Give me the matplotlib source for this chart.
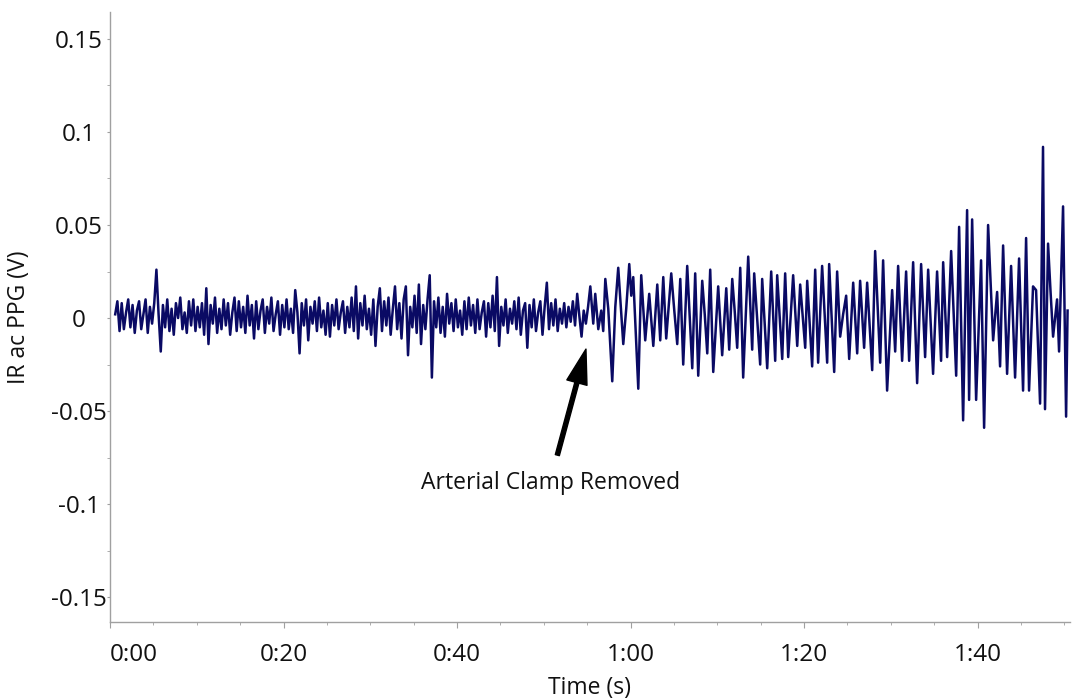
import numpy as np
import matplotlib.pyplot as plt
from matplotlib.ticker import MultipleLocator

plt.rcParams['font.family'] = ['Open Sans', 'DejaVu Sans']

# first part (clamp on): one sample every 0.25 s, values in mV
early_start = 0.6
early_step = 0.25
early_mv = [2, 9, -7, 8, -6, 3, 10, -5, 7, -8, 4, 9, -6, 2, 10, -8, 6, -3, 8, 26,
            2, -18, 7, -5, 10, -7, 5, -9, 8, 0, 11, -6, 3, -8, 9, -4, 10, -7, 6, -5,
            8, -9, 16, -14, 7, -3, 11, -8, 5, -6, 10, -4, 8, -9, 3, 11, -7, 9, -5, 6,
            -8, 12, -4, 7, -11, 9, -6, 4, 10, -8, 6, -3, 11, -7, 2, 9, -9, 7, -5, 10,
            -6, 5, -8, 15, 3, -19, 8, -4, 10, -12, 6, -3, 9, -7, 11, -5, 4, -9, 8, -10,
            7, -4, 10, -6, 3, 9, -8, 6, -5, 11, -7, 17, -11, 8, -4, 12, -6, 5, -9, 10,
            -15, 6, 16, -7, 9, -4, 11, -9, 5, 17, -6, 8, -11, 10, 17, -20, 6, -5, 12, -8,
            18, -14, 7, -6, 10, 23, -32, 9, -5, 11, -8, 6, -10, 13, -3, 8, -7, 10, -5, 4,
            -9, 9, -6, 11, -4, 7, -8, 10, -6, 3, 9, -10, 8, -5, 12, -7, 22, -15, 6, -4,
            10, -8, 5, -3, 9, -6, 11, -9, 4, 8, -16, 7, -5, 10, -7, 3, 9, -9, 6, 19,
            -6, 8, -4, 10, -7, 5, -3, 8, -5, 6, -2, 9, -4, 13, 1, -10, 4, -3, 6]

# second part (clamp removed): peaks and troughs, time in s, values in mV
late_t = [55.36, 55.70, 55.93, 56.28, 56.62, 56.85, 57.09, 57.43, 57.89, 58.24,
          58.58, 58.93, 59.16, 59.50, 59.85, 60.08, 60.31, 60.89, 61.23, 61.69,
          62.15, 62.62, 63.08, 63.42, 63.77, 64.11, 64.69, 65.04, 65.38, 65.73,
          66.07, 66.53, 67.11, 67.45, 67.80, 68.26, 68.55, 68.84, 69.18, 69.53,
          70.10, 70.56, 71.03, 71.37, 71.72, 72.00, 72.29, 72.64, 72.98, 73.56,
          74.02, 74.25, 74.94, 75.17, 75.75, 76.21, 76.67, 76.90, 77.48, 77.82,
          78.17, 78.74, 79.21, 79.55, 80.13, 80.36, 80.93, 81.28, 81.62, 82.08,
          82.66, 82.89, 83.47, 83.81, 84.16, 84.50, 84.85, 85.20, 85.66, 86.12,
          86.46, 86.92, 87.27, 87.85, 88.19, 88.77, 89.11, 89.57, 90.15, 90.50,
          90.84, 91.30, 91.76, 92.11, 92.57, 93.03, 93.49, 93.95, 94.30, 94.87,
          95.33, 95.79, 96.03, 96.49, 96.95, 97.53, 97.87, 98.33, 98.79, 99.02,
          99.37, 99.83, 100.40, 100.75, 101.21, 101.79, 102.25, 102.59, 102.94, 103.40,
          103.86, 104.32, 104.78, 105.24, 105.59, 105.93, 106.39, 106.74, 107.20, 107.54,
          107.77, 108.12, 108.41, 108.70, 109.16, 109.39, 109.85, 110.20, 110.37]
late_mv = [17, -3, 13, -6, 4, -7, 21, 5, -34, 6,
           27, 2, -14, 5, 29, 12, 22, -38, 23, -12,
           13, -15, 18, -12, 22, -11, 24, 4, -14, 21,
           -25, 28, -27, 24, -31, 20, 2, -19, 26, -29,
           17, -20, 16, -17, 21, 4, -16, 27, -32, 33,
           -17, 24, -25, 21, -27, 25, -23, 23, -22, 24,
           -21, 23, -15, 18, -16, 20, -26, 26, -24, 28,
           -24, 29, -29, 25, -10, 2, 12, -22, 19, -19,
           20, -16, 19, -28, 36, -24, 31, -39, 15, -18,
           28, -23, 25, -23, 30, -35, 29, -21, 26, -30,
           25, -23, 30, -21, 36, -31, 49, -55, 58, -44,
           53, -44, 31, -59, 50, -12, 14, -26, 39, -30,
           28, -32, 32, -39, 43, -39, 17, 15, -46, 92,
           -49, 40, 14, -10, 10, -18, 60, -53, 4]

x_ticks = [0, 20, 40, 60, 80, 100]
x_labels = ['0:00', '0:20', '0:40', '1:00', '1:20', '1:40']
y_ticks = [-0.15, -0.1, -0.05, 0, 0.05, 0.1, 0.15]
y_labels = ['-0.15', '-0.1', '-0.05', '0', '0.05', '0.1', '0.15']

early_t = early_start + early_step * np.arange(len(early_mv))
t = np.concatenate([early_t, late_t])
v = np.concatenate([early_mv, late_mv]) / 1000.0

fig = plt.figure(figsize=(10.74, 6.99), dpi=100)
ax = fig.add_axes([110 / 1074, 1 - 622 / 699, 960 / 1074, 610 / 699])
ax.plot(t, v, color='#0a0a64', lw=1.8)

ax.set_xlim(0.06, 110.65)
ax.set_ylim(-0.1634, 0.1645)
ax.set_xticks(x_ticks)
ax.set_xticklabels(x_labels)
ax.set_yticks(y_ticks)
ax.set_yticklabels(y_labels, ha='center')
ax.get_xticklabels()[0].set_ha('left')
ax.xaxis.set_minor_locator(MultipleLocator(5))
ax.yaxis.set_minor_locator(MultipleLocator(0.025))

for s in ['top', 'right']:
    ax.spines[s].set_visible(False)
for s in ['left', 'bottom']:
    ax.spines[s].set_color('#a0a0a0')
    ax.spines[s].set_linewidth(1.0)

ax.tick_params(axis='x', which='major', length=4, color='#a0a0a0', labelsize=17.5, pad=11, labelcolor='#111111')
ax.tick_params(axis='x', which='minor', length=2.5, color='#a0a0a0')
ax.tick_params(axis='y', which='major', length=2.5, color='#a0a0a0', labelsize=17.5, pad=20, labelcolor='#111111')
ax.tick_params(axis='y', which='minor', length=2.5, color='#a0a0a0')

ax.set_xlabel('Time (s)', fontsize=16.5, color='#111111')
ax.xaxis.set_label_coords(0.5, -0.088)
ax.set_ylabel('IR ac PPG (V)', fontsize=16.5, color='#111111')
ax.yaxis.set_label_coords(-0.082, 0.5)

ax.annotate('', xy=(54.86, -0.0167), xytext=(51.56, -0.0737),
            arrowprops=dict(facecolor='black', edgecolor='black', width=3,
                            headwidth=15, headlength=25, shrink=0))
ax.text(50.75, -0.0888, 'Arterial Clamp Removed', fontsize=16.5, ha='center', va='center', color='#111111')

fig.savefig('out.png', dpi=100, facecolor='white')
